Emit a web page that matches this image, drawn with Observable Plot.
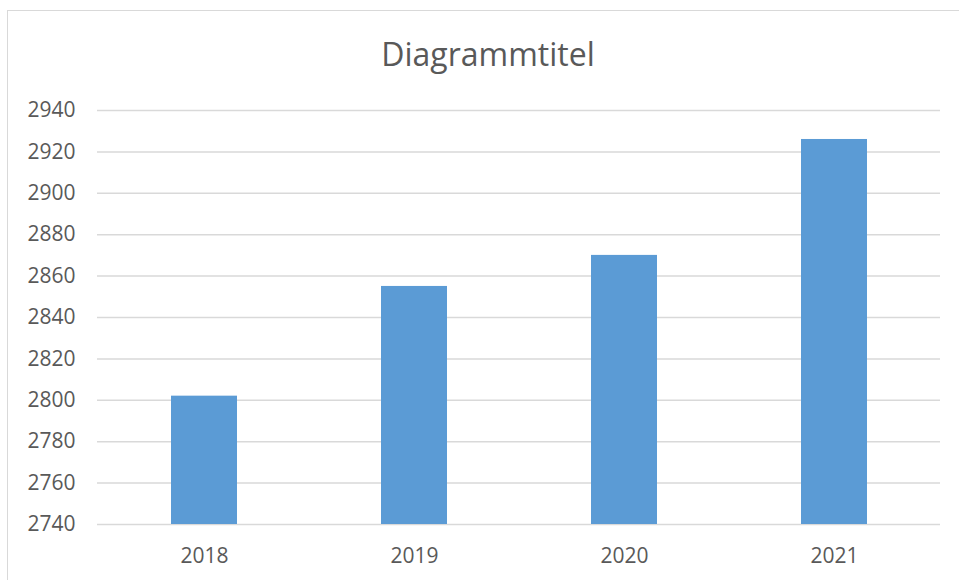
<!DOCTYPE html>
<html>
<head>
<meta charset="utf-8">
<script src="https://cdn.jsdelivr.net/npm/d3@7"></script>
<script src="https://cdn.jsdelivr.net/npm/@observablehq/plot@0.6"></script>
<style>
  html, body { margin: 0; padding: 0; background: #fff; overflow: hidden; }
  #wrap { position: relative; width: 959px; height: 580px; overflow: hidden; }
  #frame { position: absolute; left: 7px; top: 10px; width: 1000px; height: 700px; border: 1px solid #d9d9d9; box-sizing: border-box; }
  #title { position: absolute; left: 0; width: 976px; top: 38px; text-align: center; font-family: "Open Sans", sans-serif; font-size: 32px; line-height: 32px; color: #595959; }
  #chart { position: absolute; left: 0; top: 0; }
</style>
</head>
<body>
<div id="wrap">
  <div id="frame"></div>
  <div id="title">Diagrammtitel</div>
  <div id="chart"></div>
</div>
<script>
const years = ["2018", "2019", "2020", "2021"];
const values = [2802, 2855, 2870, 2926];
const yTicks = [2740, 2760, 2780, 2800, 2820, 2840, 2860, 2880, 2900, 2920, 2940];

const data = years.map((y, i) => ({year: y, value: values[i]}));
const yMin = yTicks[0];
const yMax = yTicks[yTicks.length - 1];

const chart = Plot.plot({
  width: 959,
  height: 580,
  marginLeft: 97,
  marginRight: 19,
  marginTop: 110,
  marginBottom: 56,
  style: {fontFamily: "'Open Sans', sans-serif", fontSize: "21px", color: "#595959", background: "transparent"},
  x: {domain: years, paddingInner: 0.687, paddingOuter: 0.3435, label: null},
  y: {domain: [yMin, yMax], label: null},
  marks: [
    Plot.ruleY(yTicks, {stroke: "#d9d9d9", strokeWidth: 1.5}),
    Plot.barY(data, {x: "year", y1: () => yMin, y2: "value", fill: "#5b9bd5"}),
    Plot.axisY({ticks: yTicks, tickSize: 0, tickPadding: 22, tickFormat: d => String(d), fill: "#595959", fontSize: 21}),
    Plot.axisX({tickSize: 0, tickPadding: 24, fill: "#595959", fontSize: 21})
  ]
});
document.getElementById("chart").appendChild(chart);
</script>
</body>
</html>
